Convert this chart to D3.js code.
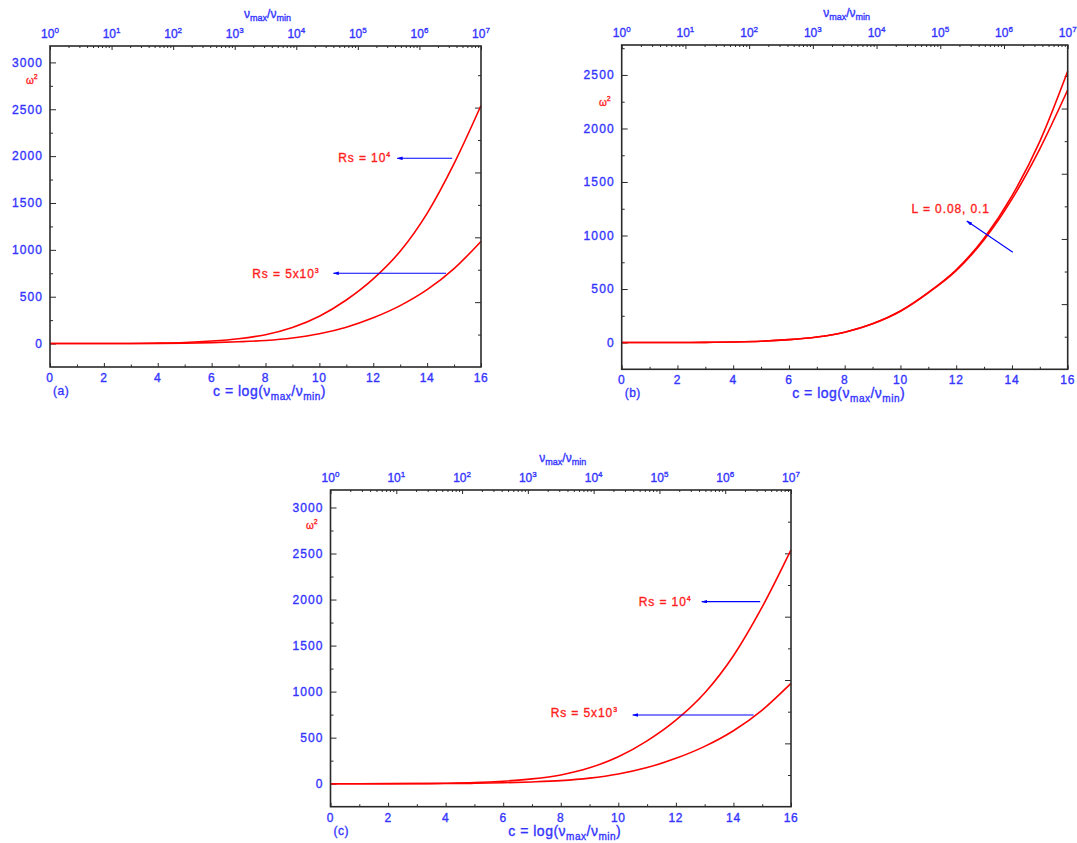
<!DOCTYPE html>
<html>
<head>
<meta charset="utf-8">
<script src="https://cdn.jsdelivr.net/npm/d3@7"></script>
<style>
  body { margin: 0; background: #fff; }
  text { font-family: "Liberation Sans", Arial, sans-serif; stroke-width: 0.35; }
</style>
</head>
<body>
<svg id="chart" width="1077" height="843"></svg>
<script>
// c = log(vmax/vmin), sampled at whole numbers
var cValues = [0, 1, 2, 3, 4, 5, 6, 7, 8, 9, 10, 11, 12, 13, 14, 15, 16];

// omega^2
var omegaRs1e4 = [0, 0, 0.3, 1.5, 5, 12, 27, 52, 95, 172, 292, 465, 690, 985, 1390, 1920, 2540];
var omegaRs5e3 = [0, 0, 0, 0.5, 1.5, 4, 10, 19, 33, 60, 105, 175, 275, 405, 575, 800, 1090];
var omegaLhigh = [0, 0, 0.3, 1.5, 5, 12, 27, 52, 97, 175, 295, 468, 680, 975, 1370, 1880, 2535];
var omegaLlow = [0, 0, 0.3, 1.5, 5, 12, 27, 52, 97, 175, 293, 465, 672, 960, 1340, 1810, 2360];

var xTicks = [0, 2, 4, 6, 8, 10, 12, 14, 16];
var yTicksAC = [0, 500, 1000, 1500, 2000, 2500, 3000];
var yTicksB = [0, 500, 1000, 1500, 2000, 2500];
var topExponents = [0, 1, 2, 3, 4, 5, 6, 7];

var blue = "#3434ff";
var red = "#ff1e1e";
var frameColor = "#2a2a2a";

var svg = d3.select("#chart");

svg.append("defs").append("marker")
  .attr("id", "head")
  .attr("viewBox", "0 0 10 6")
  .attr("refX", 9)
  .attr("refY", 3)
  .attr("markerWidth", 6)
  .attr("markerHeight", 3.6)
  .attr("markerUnits", "userSpaceOnUse")
  .attr("orient", "auto")
  .append("path")
  .attr("d", "M0,0 L10,3 L0,6 Z")
  .attr("fill", "#0000ff");

var panels = [
  {
    left: 50, right: 481, top: 46, bottom: 367,
    yDomain: [-250, 3175], yTicks: yTicksAC, rightMax: 9.9,
    series: [omegaRs1e4, omegaRs5e3], tag: "(a)", omegaX: 26, omegaY: 84,
    notes: [
      { text: "Rs = 10", sup: "4", c: 10.7, v: 1937, from: [14.93, 1977], to: [12.89, 1977] },
      { text: "Rs = 5x10", sup: "3", c: 7.51, v: 700, from: [14.7, 750], to: [10.52, 750] }
    ]
  },
  {
    left: 621.7, right: 1067.7, top: 45, bottom: 369.3,
    yDomain: [-250, 2780], yTicks: yTicksB, rightMax: 9.95,
    series: [omegaLhigh, omegaLlow], tag: "(b)", omegaX: 599, omegaY: 106,
    notes: [
      { text: "L = 0.08, 0.1", sup: "", c: 10.4, v: 1207, from: [14.03, 843], to: [12.38, 1135] }
    ]
  },
  {
    left: 330.5, right: 791, top: 490, bottom: 806.7,
    yDomain: [-250, 3190], yTicks: yTicksAC, rightMax: 10,
    series: [omegaRs1e4, omegaRs5e3], tag: "(c)", omegaX: 306, omegaY: 529,
    notes: [
      { text: "Rs = 10", sup: "4", c: 10.71, v: 1930, from: [14.93, 1977], to: [12.9, 1977] },
      { text: "Rs = 5x10", sup: "3", c: 7.65, v: 720, from: [14.7, 746], to: [10.5, 746] }
    ]
  }
];

function nuRatio(t, subSize, shift) {
  t.append("tspan").text("ν");
  t.append("tspan").attr("dy", shift).attr("font-size", subSize).text("max");
  t.append("tspan").attr("dy", -shift).text("/ν");
  t.append("tspan").attr("dy", shift).attr("font-size", subSize).text("min");
}

function stripDomain(g) {
  g.select(".domain").remove();
  g.selectAll(".tick line").attr("stroke", frameColor);
}

panels.forEach(function (p) {
  var x = d3.scaleLinear().domain([0, 16]).range([p.left, p.right]);
  var y = d3.scaleLinear().domain(p.yDomain).range([p.bottom, p.top]);
  var xTop = d3.scaleLog().domain([1, 1e7]).range([p.left, p.right]);
  var yRight = d3.scaleLinear().domain([0, p.rightMax]).range([p.bottom, p.top]);
  var g = svg.append("g");

  // ticks, all pointing inward
  g.append("g").attr("transform", "translate(0," + p.bottom + ")")
    .call(d3.axisBottom(x).tickValues(xTicks).tickSize(-4).tickFormat(""))
    .call(stripDomain);
  g.append("g").attr("transform", "translate(0," + p.bottom + ")")
    .call(d3.axisBottom(x).tickValues(d3.range(1, 16, 2)).tickSize(-2.5).tickFormat(""))
    .call(stripDomain);

  g.append("g").attr("transform", "translate(" + p.left + ",0)")
    .call(d3.axisLeft(y).tickValues(p.yTicks).tickSize(-6).tickFormat(""))
    .call(stripDomain);
  var minorY = d3.range(-250, p.yDomain[1], 500).filter(function (v) { return v > p.yDomain[0]; });
  g.append("g").attr("transform", "translate(" + p.left + ",0)")
    .call(d3.axisLeft(y).tickValues(minorY).tickSize(-3).tickFormat(""))
    .call(stripDomain);

  var majorTop = topExponents.map(function (e) { return Math.pow(10, e); });
  var minorTop = [];
  topExponents.slice(0, 7).forEach(function (e) {
    for (var k = 2; k < 10; k++) minorTop.push(k * Math.pow(10, e));
  });
  g.append("g").attr("transform", "translate(0," + p.top + ")")
    .call(d3.axisTop(xTop).tickValues(majorTop).tickSize(-4).tickFormat(""))
    .call(stripDomain);
  g.append("g").attr("transform", "translate(0," + p.top + ")")
    .call(d3.axisTop(xTop).tickValues(minorTop).tickSize(-2).tickFormat(""))
    .call(stripDomain);

  var rightTicks = d3.range(1, Math.floor(p.rightMax) + 1);
  g.append("g").attr("transform", "translate(" + p.right + ",0)")
    .call(d3.axisRight(yRight).tickValues(rightTicks.filter(function (k) { return k % 2 === 0; })).tickSize(-6).tickFormat(""))
    .call(stripDomain);
  g.append("g").attr("transform", "translate(" + p.right + ",0)")
    .call(d3.axisRight(yRight).tickValues(rightTicks.filter(function (k) { return k % 2 === 1; })).tickSize(-3).tickFormat(""))
    .call(stripDomain);

  // curves
  var line = d3.line()
    .x(function (d, i) { return x(cValues[i]); })
    .y(function (d) { return y(d); })
    .curve(d3.curveMonotoneX);
  p.series.forEach(function (s) {
    g.append("path")
      .datum(s)
      .attr("d", line)
      .attr("fill", "none")
      .attr("stroke", "#ff0000")
      .attr("stroke-width", 1.6);
  });

  // frame
  g.append("rect")
    .attr("x", p.left).attr("y", p.top)
    .attr("width", p.right - p.left).attr("height", p.bottom - p.top)
    .attr("fill", "none")
    .attr("stroke", frameColor)
    .attr("stroke-width", 1.6);

  // tick labels
  g.selectAll(".ylab").data(p.yTicks).enter().append("text")
    .attr("x", p.left - 7)
    .attr("y", function (d) { return y(d) + 4.3; })
    .attr("text-anchor", "end")
    .attr("font-size", 12)
    .attr("letter-spacing", 1.1)
    .attr("fill", blue)
    .text(function (d) { return d; });

  g.selectAll(".xlab").data(xTicks).enter().append("text")
    .attr("x", function (d) { return x(d); })
    .attr("y", p.bottom + 15)
    .attr("text-anchor", "middle")
    .attr("font-size", 12)
    .attr("letter-spacing", 0.7)
    .attr("fill", blue)
    .text(function (d) { return d; });

  topExponents.forEach(function (e) {
    var t = g.append("text")
      .attr("x", xTop(Math.pow(10, e)))
      .attr("y", p.top - 8.5)
      .attr("text-anchor", "middle")
      .attr("font-size", 12)
      .attr("fill", blue);
    t.append("tspan").text("10");
    t.append("tspan").attr("dy", -5).attr("font-size", 8).text(e);
  });

  // axis titles
  var topTitle = g.append("text")
    .attr("x", (p.left + p.right) / 2 + 2)
    .attr("y", p.top - 28)
    .attr("text-anchor", "middle")
    .attr("font-size", 12)
    .attr("fill", blue);
  nuRatio(topTitle, 9, 3);

  var xTitle = g.append("text")
    .attr("x", (p.left + p.right) / 2 + 4)
    .attr("y", p.bottom + 29)
    .attr("text-anchor", "middle")
    .attr("font-size", 14)
    .attr("letter-spacing", 0.5)
    .attr("fill", blue);
  xTitle.append("tspan").text("c = log(");
  nuRatio(xTitle, 10, 4);
  xTitle.append("tspan").attr("dy", -4).text(")");

  g.append("text")
    .attr("x", p.left + 3)
    .attr("y", p.bottom + 28)
    .attr("font-size", 12)
    .attr("letter-spacing", 0.5)
    .attr("fill", blue)
    .text(p.tag);

  var om = g.append("text")
    .attr("x", p.omegaX)
    .attr("y", p.omegaY)
    .attr("font-size", 10)
    .attr("fill", red);
  om.append("tspan").text("ω");
  om.append("tspan").attr("dy", -5).attr("font-size", 7).text("2");

  // annotations
  p.notes.forEach(function (n) {
    var t = g.append("text")
      .attr("x", x(n.c))
      .attr("y", y(n.v))
      .attr("font-size", 12)
      .attr("letter-spacing", 0.9)
      .attr("fill", red);
    t.append("tspan").text(n.text);
    if (n.sup) t.append("tspan").attr("dy", -5).attr("font-size", 7).text(n.sup);

    g.append("line")
      .attr("x1", x(n.from[0])).attr("y1", y(n.from[1]))
      .attr("x2", x(n.to[0])).attr("y2", y(n.to[1]))
      .attr("stroke", "#0000ff")
      .attr("stroke-width", 1.1)
      .attr("marker-end", "url(#head)");
  });
});

// slightly heavier glyphs, as in the original print
svg.selectAll("text").attr("stroke", function () { return this.getAttribute("fill"); });
</script>
</body>
</html>
